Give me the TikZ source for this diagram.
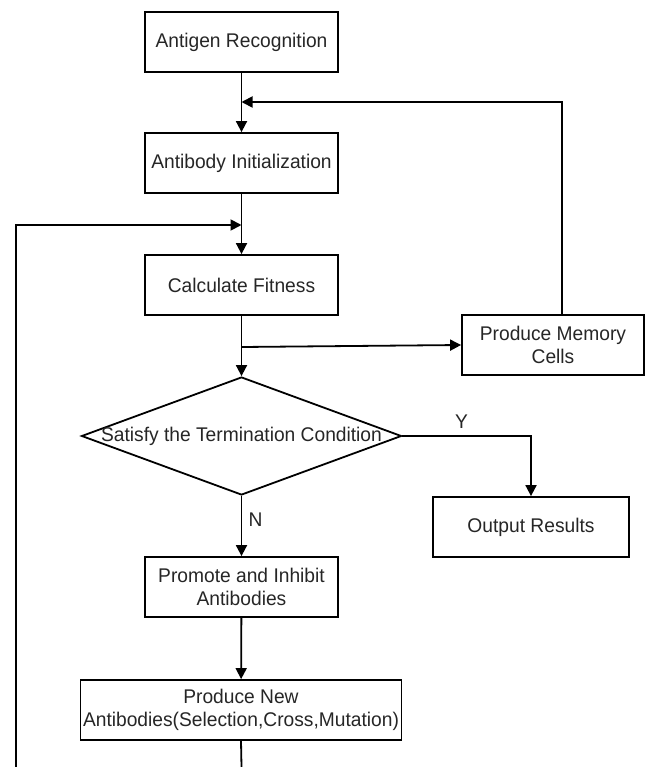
\documentclass[tikz,border=0pt]{standalone}
\usepackage{fontspec}
\setmainfont[FakeStretch=0.97]{Liberation Sans}
\usetikzlibrary{arrows.meta,shapes.geometric}

\begin{document}
\begin{tikzpicture}[x=1pt,y=-1pt,
  font=\fontsize{19.8}{22.5}\selectfont,text=black!85,
  box/.style={draw,line width=1.8pt,minimum width=193pt,minimum height=60pt,align=center,inner sep=2pt},
  decision/.style={draw,diamond,line width=1.8pt,minimum width=320pt,minimum height=118pt,inner sep=0pt},
  flow/.style={line width=1.8pt,-{Triangle[length=11pt,width=11pt]}},
  plain/.style={line width=1.8pt}]
  \useasboundingbox (0,0) rectangle (646,767);
  \node[box] (antigen) at (241.5,42) {Antigen Recognition};
  \node[box] (init) at (241.5,163) {Antibody Initialization};
  \node[box] (fitness) at (241.5,285) {Calculate Fitness};
  \node[box,minimum width=182pt] (memory) at (553,345) {Produce Memory\\Cells};
  \node[decision] (cond) at (241.5,436) {\makebox[0pt]{Satisfy the Termination Condition}};
  \node[box,minimum width=196pt] (output) at (531,527) {Output Results};
  \node[box] (promote) at (241.5,587) {Promote and Inhibit\\Antibodies};
  \node[box,minimum width=321pt] (newab) at (241,710) {Produce New\\Antibodies(Selection,Cross,Mutation)};
  \coordinate (memin) at (241.5,102);
  \coordinate (loopin) at (241.5,225);
  \coordinate (split) at (241.5,347);
  \coordinate (loopbot) at (16,767);
  \coordinate (newout) at (241.5,767);
  \draw[flow] (antigen) -- (init);
  \draw[flow] ([xshift=9pt]memory.north) |- (memin);
  \draw[flow] (init) -- (fitness);
  \draw[flow] (loopbot) |- (loopin);
  \draw[flow] (fitness) -- (cond);
  \draw[flow] (split) -- (memory.west);
  \draw[flow] (cond.east) -| (output.north) node[pos=0.23,above=3pt] {Y};
  \draw[flow] (cond.south) -- (promote.north) node[pos=0.4,right=3pt] {N};
  \draw[flow] (promote) -- (newab);
  \draw[plain] (newab.south) -- (newout);
\end{tikzpicture}
\end{document}
